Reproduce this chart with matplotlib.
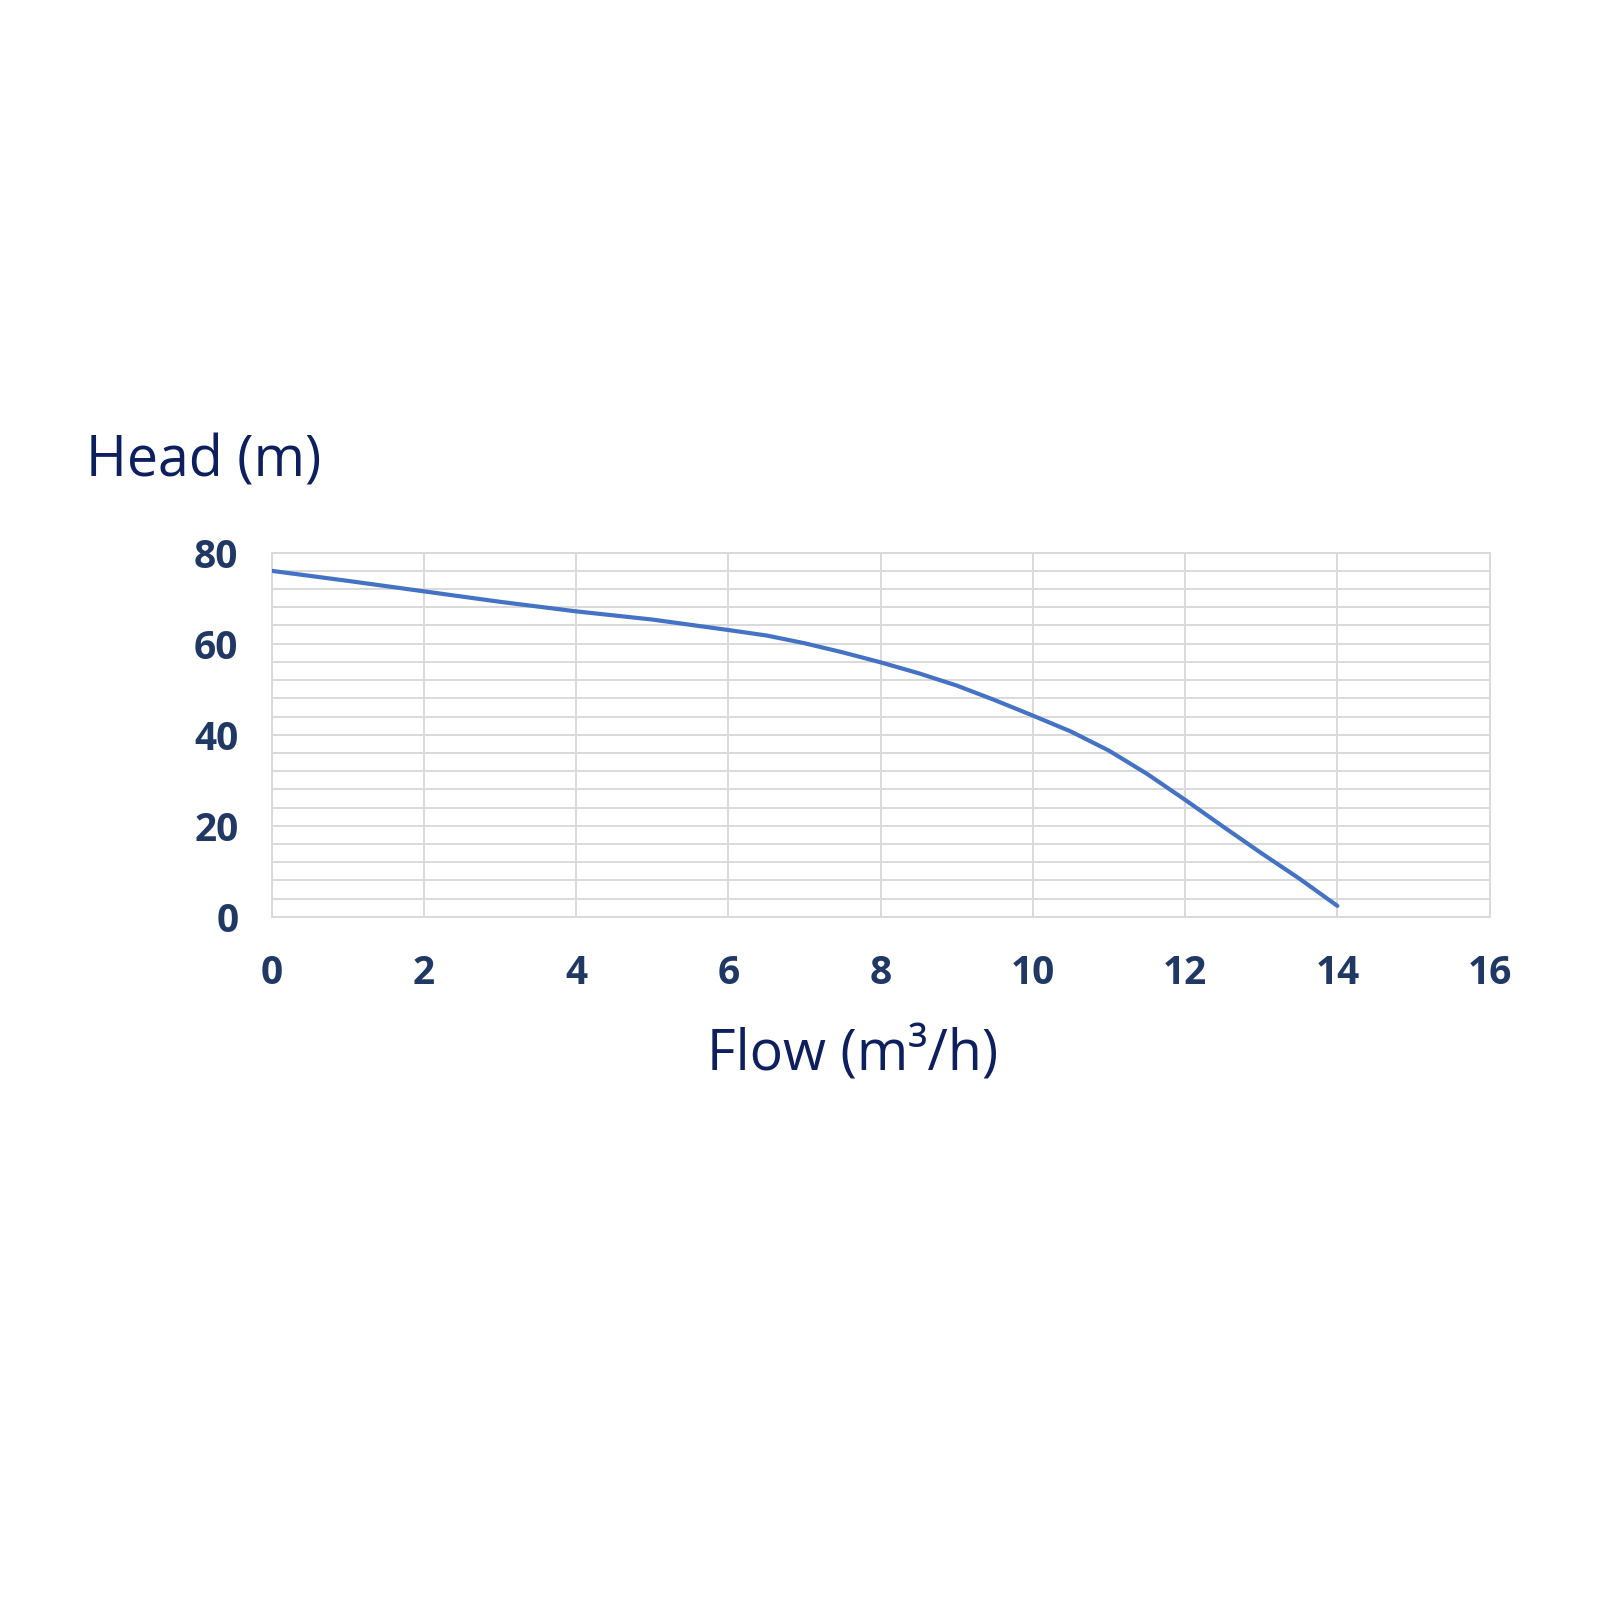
import matplotlib
matplotlib.use("Agg")
from matplotlib import pyplot as plt

plt.rcParams['font.family'] = ['Open Sans', 'DejaVu Sans']

# pump curve
flow = [0, 1, 2, 3, 4, 5, 6, 6.5, 7, 7.5, 8, 8.5, 9, 9.5, 10,
        10.5, 11, 11.5, 12, 12.5, 13, 13.5, 14]
head = [76.0, 73.8, 71.5, 69.2, 67.1, 65.3, 63.0, 61.8, 60.1, 58.1, 55.9, 53.5, 50.8, 47.6, 44.2,
        40.7, 36.5, 31.4, 25.7, 19.8, 14.0, 8.4, 2.4]
x_ticks = [0, 2, 4, 6, 8, 10, 12, 14, 16]
y_ticks = [0, 20, 40, 60, 80]

fig = plt.figure(figsize=(16, 16), dpi=100)
ax = fig.add_axes([0.1698, 0.427, 0.7612, 0.2276])

ax.plot(flow, head, color="#4472C4", linewidth=3.0, solid_capstyle="round",
        solid_joinstyle="round", zorder=3)

ax.set_xlim(0, 16)
ax.set_ylim(0, 80)
ax.set_xticks(x_ticks)
ax.set_yticks(y_ticks)
ax.set_yticks(range(0, 81, 4), minor=True)

ax.grid(True, which="both", color="#d9d9d9", linewidth=1.4)
for s in ax.spines.values():
    s.set_color("#d9d9d9")
    s.set_linewidth(1.4)

ax.tick_params(which="both", length=0)
ax.tick_params(axis="x", pad=27)
ax.tick_params(axis="y", pad=24)
for lab in ax.get_xticklabels() + ax.get_yticklabels():
    lab.set_fontsize(28)
    lab.set_fontweight("bold")
    lab.set_color("#203864")

fig.text(0.054, 0.702, "Head (m)", fontsize=40, color="#0d1f5e", va="baseline", ha="left")
fig.text(0.533, 0.331, "Flow (m³/h)", fontsize=40, color="#0d1f5e", va="baseline", ha="center")

fig.savefig("out.png", dpi=100, facecolor="white")
